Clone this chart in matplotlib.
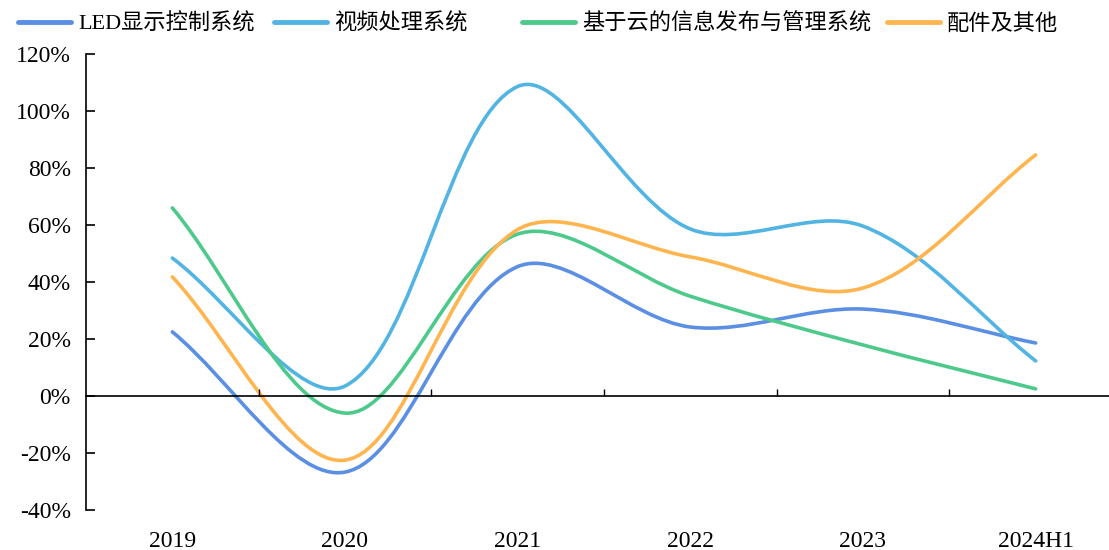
import math
import matplotlib.pyplot as plt
from matplotlib.path import Path
from matplotlib.patches import PathPatch
from matplotlib.lines import Line2D
from matplotlib.ticker import FuncFormatter

plt.rcParams['font.family'] = ['Liberation Serif', 'Noto Sans CJK SC', 'DejaVu Sans']

years = ['2019', '2020', '2021', '2022', '2023', '2024H1']
led = [22.5, -26.7, 45.4, 24.2, 30.5, 18.6]
video = [48.4, 3.5, 108.6, 58.6, 59.6, 12.3]
cloud = [66.0, -6.0, 56.8, 35.0, 17.9, 2.5]
parts = [41.8, -22.5, 58.4, 48.8, 37.9, 84.6]

names = ['LED显示控制系统', '视频处理系统', '基于云的信息发布与管理系统', '配件及其他']
colors = ['#5B8FE3', '#52B4E3', '#4EC98C', '#FFB54F']
legend_x = [18, 274, 522, 887]  # left edge of each legend entry, px


def smooth_path(ax, xs, ys):
    # bezier spline in screen space, tangents weighted by chord length
    pts = ax.transData.transform(list(zip(xs, ys)))
    n = len(pts)
    outs, ins = [], []
    for i in range(n):
        a = pts[i - 1] if i > 0 else pts[i]
        b = pts[i + 1] if i < n - 1 else pts[i]
        d0 = math.dist(a, pts[i])
        d1 = math.dist(pts[i], b)
        tot = (d0 + d1) or 1.0
        t = b - a
        outs.append(pts[i] + t * d1 / tot / 3)
        ins.append(pts[i] - t * d0 / tot / 3)
    verts = [pts[0]]
    codes = [Path.MOVETO]
    for i in range(n - 1):
        verts += [outs[i], ins[i + 1], pts[i + 1]]
        codes += [Path.CURVE4] * 3
    inv = ax.transData.inverted()
    return Path(inv.transform(verts), codes)


fig = plt.figure(figsize=(11.09, 5.5), dpi=100)
ax = fig.add_axes([86 / 1109, 40 / 550, 1036 / 1109, 456 / 550])
ax.set_xlim(-0.5, 5.5)
ax.set_ylim(-40, 120)

xs = list(range(len(years)))
for vals, c in zip([led, video, cloud, parts], colors):
    ax.add_patch(PathPatch(smooth_path(ax, xs, vals), facecolor='none', edgecolor=c,
                           lw=2.6, capstyle='round', joinstyle='round'))

ax.set_yticks(range(-40, 121, 20))
ax.yaxis.set_major_formatter(FuncFormatter(lambda v, p: '%d%%' % v))
ax.tick_params(axis='y', direction='in', length=6.5, width=1.2, pad=11, labelsize=17)

ax.spines['top'].set_visible(False)
ax.spines['right'].set_visible(False)
ax.spines['left'].set_linewidth(1.2)
ax.spines['bottom'].set_position(('data', 0))
ax.spines['bottom'].set_linewidth(1.2)

ax.set_xticks(xs)
ax.set_xticklabels(years)
ax.set_xticks([0.5, 1.5, 2.5, 3.5, 4.5], minor=True)
ax.tick_params(axis='x', which='major', length=0, pad=97, labelsize=17)
ax.tick_params(axis='x', which='minor', direction='in', length=5, width=1)

# one legend per entry so each can sit at its own spot along the top
for name, c, lx in zip(names, colors, legend_x):
    h = Line2D([], [], color=c, lw=3.5, solid_capstyle='round')
    leg = fig.legend([h], [name], loc='center left', bbox_to_anchor=(lx / 1109, 1 - 24 / 550),
                     frameon=False, borderpad=0, borderaxespad=0, handlelength=2.4,
                     handletextpad=0.3,
                     prop={'family': ['Liberation Serif', 'Noto Sans CJK SC'], 'size': 16})

fig.savefig('out.png', dpi=100)
